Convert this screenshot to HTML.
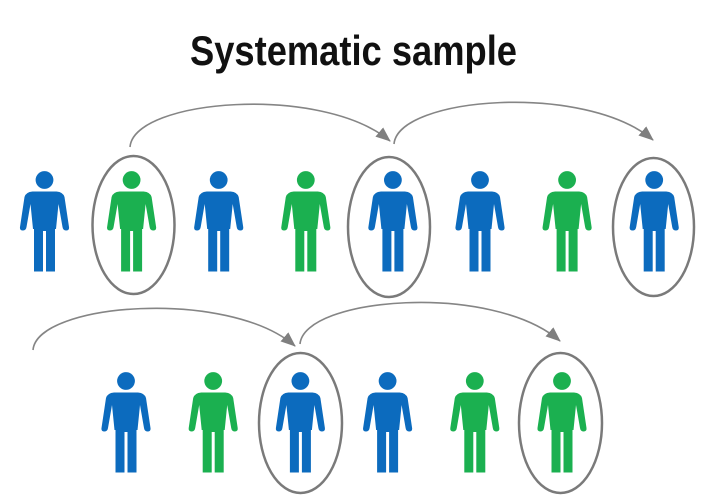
<!DOCTYPE html>
<html>
<head>
<meta charset="utf-8">
<style>
  html, body { margin:0; padding:0; background:#ffffff; }
  body { width:713px; height:498px; overflow:hidden; }
  svg { display:block; }
</style>
</head>
<body>
<svg width="713" height="498" viewBox="0 0 713 498" xmlns="http://www.w3.org/2000/svg">
  <defs>
    <path id="man" d="M0,11.5 L12,11.5 Q18.5,12 20,17 L24.5,47 Q25,50.5 21.5,50.5 Q18.5,50.5 18,47 L14,24 L11.5,49 L10.5,49 L10.5,91.5 L1.5,91.5 L1.5,51 L-1.5,51 L-1.5,91.5 L-10.5,91.5 L-10.5,49 L-11.5,49 L-14,24 L-18,47 Q-18.5,50.5 -21.5,50.5 Q-25,50.5 -24.5,47 L-20,17 Q-18.5,12 -12,11.5 Z"/>
    <marker id="ah" markerUnits="userSpaceOnUse" markerWidth="16" markerHeight="14" refX="14" refY="6" orient="auto">
      <path d="M0,0 L15,6 L0,12 Z" fill="#7f7f7f"/>
    </marker>
  </defs>

  <text x="353.5" y="65" text-anchor="middle" font-family="'Liberation Sans', sans-serif" font-weight="bold" font-size="42" fill="#111111" textLength="327" lengthAdjust="spacingAndGlyphs">Systematic sample</text>

  <!-- arrows -->
  <g fill="none" stroke="#858585" stroke-width="1.6">
    <path d="M130,147 C134,99 322,84 390,141" marker-end="url(#ah)"/>
    <path d="M394,144 C398,97 585,82 653,140" marker-end="url(#ah)"/>
    <path d="M33,350 C37,303 228,288 295,346" marker-end="url(#ah)"/>
    <path d="M300,344 C304,297 492,282 560,341" marker-end="url(#ah)"/>
  </g>

  <!-- ellipses -->
  <g fill="none" stroke="#7a7a7a" stroke-width="2.5">
    <ellipse cx="133.5" cy="225" rx="41" ry="69"/>
    <ellipse cx="389" cy="227" rx="41" ry="70"/>
    <ellipse cx="653.5" cy="227" rx="40.5" ry="69"/>
    <ellipse cx="300.5" cy="423" rx="41.5" ry="70"/>
    <ellipse cx="560.5" cy="423" rx="41.5" ry="70"/>
  </g>

  <!-- row 1 people -->
  <g fill="#0c6bbe">
    <g transform="translate(44.5,180)"><circle r="8.9"/><use href="#man"/></g>
  </g>
  <g fill="#1bb050">
    <g transform="translate(131.6,180)"><circle r="8.9"/><use href="#man"/></g>
  </g>
  <g fill="#0c6bbe">
    <g transform="translate(218.7,180)"><circle r="8.9"/><use href="#man"/></g>
  </g>
  <g fill="#1bb050">
    <g transform="translate(305.8,180)"><circle r="8.9"/><use href="#man"/></g>
  </g>
  <g fill="#0c6bbe">
    <g transform="translate(392.9,180)"><circle r="8.9"/><use href="#man"/></g>
    <g transform="translate(480,180)"><circle r="8.9"/><use href="#man"/></g>
  </g>
  <g fill="#1bb050">
    <g transform="translate(567.1,180)"><circle r="8.9"/><use href="#man"/></g>
  </g>
  <g fill="#0c6bbe">
    <g transform="translate(654.2,180)"><circle r="8.9"/><use href="#man"/></g>
  </g>

  <!-- row 2 people -->
  <g fill="#0c6bbe">
    <g transform="translate(126,381)"><circle r="8.9"/><use href="#man"/></g>
  </g>
  <g fill="#1bb050">
    <g transform="translate(213.2,381)"><circle r="8.9"/><use href="#man"/></g>
  </g>
  <g fill="#0c6bbe">
    <g transform="translate(300.4,381)"><circle r="8.9"/><use href="#man"/></g>
    <g transform="translate(387.6,381)"><circle r="8.9"/><use href="#man"/></g>
  </g>
  <g fill="#1bb050">
    <g transform="translate(474.8,381)"><circle r="8.9"/><use href="#man"/></g>
    <g transform="translate(562,381)"><circle r="8.9"/><use href="#man"/></g>
  </g>
</svg>
</body>
</html>
